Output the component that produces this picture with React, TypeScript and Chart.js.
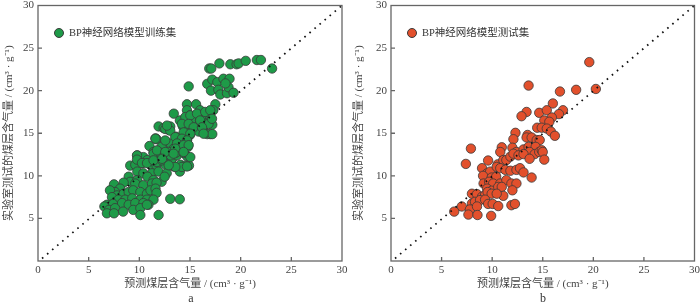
import React, { useEffect, useRef } from 'react';
import { Chart, registerables } from 'chart.js';
Chart.register(...registerables);

// ---------- data ----------
const trainX = [
  14.87, 16.9, 17.1, 17.9, 18.98, 19.6, 19.8, 20.5, 21.6, 22.0, 23.1, 16.7, 17.2, 17.7, 18.3, 18.9, 17.07, 17.8, 17.99, 18.65, 18.8, 19.3, 18.5,
  14.7, 15.6, 17.5, 17.3, 16.0, 13.4, 14.7, 15.0, 15.4, 16.0, 16.5, 17.0, 17.2, 16.7, 14.0, 14.3, 16.3, 16.7, 17.0, 17.2, 15.85, 14.5, 15.0,
  11.9, 12.4, 12.9, 13.05, 13.6, 14.2, 14.7, 11.6, 11.7, 12.6, 13.05, 11.0, 12.2, 13.4, 14.2, 14.8, 14.7, 11.4, 12.2, 12.9, 13.7, 9.8, 10.4,
  10.8, 11.6, 12.4, 13.2, 14.05, 14.5, 14.9, 14.0, 9.1, 9.6, 10.3, 11.1, 11.7, 12.6, 13.4, 9.8, 10.4, 11.25, 11.9, 12.7,
  8.95, 9.1, 9.8, 10.8, 11.4, 12.2, 12.5, 8.45, 9.6, 10.4, 11.25, 11.7, 7.5, 8.1, 7.6, 7.1,
  7.8, 8.45, 8.95, 9.4, 10.1, 10.75, 11.1, 11.6, 11.7, 7.3, 7.95, 8.6, 9.3, 10.1, 10.75, 11.4, 13.05, 13.99,
  6.8, 7.4, 8.3, 8.95, 9.6, 10.4, 10.9, 6.55, 7.0, 7.6, 8.4, 9.4, 10.1, 10.75, 6.8, 7.5, 10.1, 11.9,
  9.77, 9.77, 10.26, 10.76, 11.74, 12.24, 12.73, 13.22, 13.72, 14.37, 15.03, 14.2, 14.7, 13.55, 12.9, 11.4, 12.1, 13.1, 13.6,
  14.54, 15.03, 15.69, 16.5, 17.0, 16.0, 16.83, 17.17, 14.2, 14.87, 15.36, 16.18, 14.37, 15.03, 16.34,
  12.56, 13.05, 12.73, 13.55, 14.2, 14.7, 13.72, 14.37, 14.87, 11.59, 12.56, 13.55, 14.37, 11.74, 12.56, 13.38, 11.4, 12.24
];
const trainY = [
  20.5, 22.6, 22.6, 23.2, 23.1, 23.1, 23.2, 23.5, 23.6, 23.6, 22.6, 20.8, 21.3, 21.0, 21.4, 21.4, 20.0, 20.1, 19.55, 19.7, 20.4, 19.75, 20.85,
  18.4, 18.4, 18.4, 17.7, 17.7, 17.3, 17.7, 17.1, 16.7, 16.5, 16.9, 16.7, 16.0, 16.15, 16.5, 15.8, 15.6, 14.9, 14.9, 14.9, 15.2, 15.2, 14.8,
  15.8, 15.6, 15.4, 15.8, 14.6, 14.2, 14.2, 14.4, 14.3, 14.0, 13.8, 13.5, 13.4, 13.2, 13.4, 13.4, 12.3, 12.8, 12.6, 12.8, 12.6, 12.4, 12.2,
  11.85, 11.9, 11.85, 12.0, 11.3, 11.2, 11.2, 10.5, 11.2, 11.3, 11.5, 11.3, 11.2, 11.3, 11.1, 10.5, 10.3, 10.3, 10.5, 10.3,
  9.9, 9.3, 9.5, 9.9, 9.5, 9.3, 9.9, 9.2, 9.1, 8.9, 9.1, 9.2, 9.0, 8.5, 8.1, 8.3,
  7.7, 7.9, 8.1, 8.3, 8.1, 7.9, 8.3, 8.5, 8.0, 7.5, 7.2, 7.2, 7.35, 7.2, 7.2, 7.2, 7.3, 7.25,
  6.6, 6.7, 6.8, 6.6, 6.8, 6.8, 6.6, 6.4, 6.0, 6.2, 5.8, 6.0, 6.2, 6.6, 5.6, 5.6, 5.4, 5.4,
  12.4, 11.9, 11.5, 11.5, 11.62, 11.82, 12.2, 12.0, 12.4, 12.68, 12.2, 11.04, 11.1, 11.04, 11.24, 12.6, 12.7, 12.4, 12.7,
  16.9, 17.1, 17.3, 17.5, 17.7, 16.5, 16.1, 16.7, 16.1, 16.1, 15.7, 15.7, 15.1, 14.95, 14.95,
  15.5, 15.3, 15.9, 14.55, 14.36, 14.16, 13.8, 13.6, 13.6, 14.36, 14.16, 13.19, 12.8, 12.99, 12.8, 12.6, 11.82, 12.0
];
const testX = [
  19.6, 13.6, 16.7, 18.3, 20.25, 16.0, 13.4, 12.9, 14.65, 15.4, 17.0, 16.6, 15.9, 15.15, 15.65, 14.45, 14.9, 15.4, 15.8, 16.2,
  12.3, 13.5, 13.4, 12.1, 13.9, 14.4, 14.7, 7.9, 10.95, 10.8, 12.0, 12.4, 13.1, 13.6, 14.3, 13.7, 14.2, 14.65, 14.9, 15.0, 15.15,
  9.6, 7.4, 10.55, 11.1, 11.4, 11.8, 12.1, 12.6, 13.1, 13.7, 9.0, 9.5, 9.8, 10.45, 10.8, 11.3, 11.8, 12.4, 12.75, 13.1, 13.9,
  9.1, 9.95, 10.4, 9.15, 9.7, 10.1, 10.8, 11.4, 11.9, 12.4, 12.0, 9.5, 9.95, 10.6, 10.95, 11.1,
  8.0, 8.5, 9.0, 9.3, 9.55, 9.95, 10.45, 8.0, 8.3, 8.8, 9.3, 7.0, 7.8, 8.5, 9.6, 10.05, 10.6, 11.9, 12.25, 6.25, 7.65, 8.55, 9.9
];
const testY = [
  23.35, 20.6, 19.9, 20.1, 20.2, 18.5, 17.5, 17.0, 17.4, 17.7, 17.7, 17.25, 16.85, 16.5, 16.35, 15.65, 15.65, 15.55, 15.2, 14.7,
  15.05, 14.8, 14.5, 14.3, 14.5, 14.2, 14.2, 13.2, 13.35, 12.8, 13.3, 12.8, 13.1, 13.4, 13.4, 12.8, 12.55, 12.8, 13.0, 12.8, 11.9,
  11.8, 11.4, 11.35, 11.85, 11.85, 12.25, 12.6, 12.4, 12.55, 12.0, 10.9, 10.3, 10.5, 11.05, 10.9, 10.7, 10.6, 10.7, 10.9, 10.4, 9.8,
  10.0, 9.8, 9.9, 9.1, 9.3, 9.1, 9.1, 9.5, 9.1, 9.1, 8.3, 8.5, 8.25, 8.7, 8.7, 7.65,
  7.9, 7.85, 7.55, 7.75, 8.1, 7.9, 7.9, 6.75, 6.95, 7.15, 7.2, 6.4, 6.05, 6.4, 6.7, 6.7, 6.45, 6.55, 6.7, 5.8, 5.45, 5.4, 5.3
];
const diagX = [0.4, 30];
const diagY = [0.3, 30];
const axisMin = 0;
const axisMax = 30;
const tickStep = 5;
const trainLabel = 'BP神经网络模型训练集';
const testLabel = 'BP神经网络模型测试集';
const xTitle = '预测煤层含气量 / (cm³ · g⁻¹)';
const yTitle = '实验室测试的煤层含气量 / (cm³ · g⁻¹)';

const FONT = "'Liberation Serif', 'Noto Sans CJK SC', serif";
const TEXT_COLOR = '#444';
const FRAME_COLOR = '#666';

const framePlugin = {
  id: 'frameTicks',
  afterDatasetsDraw(chart: any) {
    const { ctx, chartArea } = chart;
    const xs = chart.scales.x;
    const ys = chart.scales.y;
    ctx.save();
    ctx.strokeStyle = FRAME_COLOR;
    ctx.lineWidth = 1.3;
    ctx.strokeRect(chartArea.left, chartArea.top, chartArea.right - chartArea.left, chartArea.bottom - chartArea.top);
    ctx.beginPath();
    for (let v = axisMin + tickStep; v < axisMax; v += tickStep) {
      const px = xs.getPixelForValue(v);
      ctx.moveTo(px, chartArea.bottom);
      ctx.lineTo(px, chartArea.bottom - 4);
      const py = ys.getPixelForValue(v);
      ctx.moveTo(chartArea.left, py);
      ctx.lineTo(chartArea.left + 4, py);
    }
    ctx.stroke();
    ctx.restore();
  },
};

function makeConfig(xs: number[], ys: number[], color: string, yWidth: number, padRight: number): any {
  return {
    type: 'scatter',
    data: {
      datasets: [
        {
          type: 'line',
          data: diagX.map((x, i) => ({ x, y: diagY[i] })),
          borderColor: '#111',
          borderWidth: 1.8,
          borderDash: [1.6, 5],
          pointRadius: 0,
          fill: false,
          order: 0,
        },
        {
          data: xs.map((x, i) => ({ x, y: ys[i] })),
          backgroundColor: color,
          borderColor: '#3a3a3a',
          borderWidth: 0.8,
          pointRadius: 4.7,
          order: 1,
        },
      ],
    },
    options: {
      animation: false,
      responsive: false,
      maintainAspectRatio: false,
      layout: { padding: { top: 5, right: padRight, left: 0, bottom: 0 } },
      plugins: { legend: { display: false }, tooltip: { enabled: false } },
      scales: {
        x: {
          type: 'linear',
          min: axisMin,
          max: axisMax,
          ticks: { stepSize: tickStep, padding: 3, color: TEXT_COLOR, font: { family: FONT, size: 11 } },
          grid: { display: false, drawTicks: false },
          border: { display: false },
          title: { display: true, text: xTitle, color: TEXT_COLOR, font: { family: FONT, size: 11 }, padding: { top: 0, bottom: 16 } },
          afterFit: (s: any) => { s.height = 46; s.paddingLeft = 0; s.paddingRight = 0; },
        },
        y: {
          type: 'linear',
          min: axisMin,
          max: axisMax,
          ticks: {
            stepSize: tickStep,
            padding: 4,
            color: TEXT_COLOR,
            font: { family: FONT, size: 11 },
            callback: (v: any) => (v === 0 ? '' : String(v)),
          },
          grid: { display: false, drawTicks: false },
          border: { display: false },
          title: { display: true, text: yTitle, color: TEXT_COLOR, font: { family: FONT, size: 11 }, padding: { top: 2.5, bottom: 0 } },
          afterFit: (s: any) => { s.width = yWidth; s.paddingTop = 0; s.paddingBottom = 0; },
        },
      },
    },
    plugins: [framePlugin],
  };
}

function Panel(props: { xs: number[]; ys: number[]; color: string; yWidth: number; padRight: number; left: number; legend: string; letter: string; letterX: number }) {
  const ref = useRef<HTMLCanvasElement>(null);
  useEffect(() => {
    if (!ref.current) return;
    const chart = new Chart(ref.current, makeConfig(props.xs, props.ys, props.color, props.yWidth, props.padRight));
    return () => chart.destroy();
  }, []);
  return (
    <div style={{ position: 'absolute', left: props.left, top: 0, width: 350, height: 307 }}>
      <canvas ref={ref} width={350} height={307} style={{ width: 350, height: 307, display: 'block' }} />
      <div
        style={{
          position: 'absolute',
          left: props.yWidth + 16,
          top: 28,
          width: 8,
          height: 8,
          borderRadius: '50%',
          background: props.color,
          border: '0.8px solid #3a3a3a',
        }}
      />
      <div
        style={{
          position: 'absolute',
          left: props.yWidth + 31,
          top: 25,
          fontFamily: FONT,
          fontSize: 10.5,
          fontWeight: 'normal',
          color: '#333',
          lineHeight: '16px',
          whiteSpace: 'nowrap',
        }}
      >
        {props.legend}
      </div>
      <div
        style={{
          position: 'absolute',
          left: props.letterX - 10,
          width: 20,
          top: 291,
          textAlign: 'center',
          fontFamily: FONT,
          fontSize: 12,
          color: '#333',
          lineHeight: '15px',
        }}
      >
        {props.letter}
      </div>
    </div>
  );
}

export default function App() {
  return (
    <div style={{ position: 'absolute', left: 0, top: 0, width: 700, height: 307, background: '#fff', overflow: 'hidden' }}>
      <Panel xs={trainX} ys={trainY} color="#1e9a48" yWidth={38} padRight={8} left={0} legend={trainLabel} letter="a" letterX={191} />
      <Panel xs={testX} ys={testY} color="#e2502c" yWidth={41} padRight={5} left={350} legend={testLabel} letter="b" letterX={193} />
    </div>
  );
}
